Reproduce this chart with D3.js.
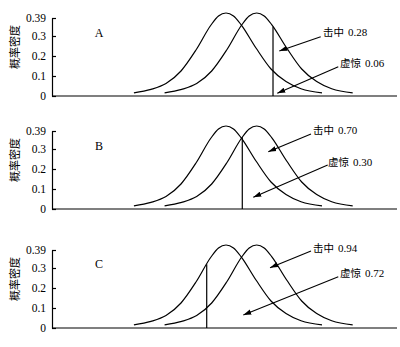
<!DOCTYPE html>
<html><head><meta charset="utf-8">
<script src="https://cdn.jsdelivr.net/npm/d3@7"></script>
<style>
html,body{margin:0;padding:0;background:#fff;}
svg{display:block;}
</style>
</head><body>
<svg id="chart" width="400" height="347"></svg>
<script>
// ---- data ----
const panelNames = ["A", "B", "C"];
const hitRates = ["0.28", "0.70", "0.94"];
const faRates = ["0.06", "0.30", "0.72"];
const criteria = [1.567, 0.543, -0.643];
const noiseMean = 0;
const signalMean = 1.023;
const curveOffsets = [-3.07, -2.5, -2, -1.5, -1, -0.5, -0.25, 0, 0.25, 0.5, 1, 1.5, 2, 2.5, 3.2];
const curveDensity = [0.016, 0.033, 0.062, 0.125, 0.23, 0.355, 0.40, 0.415, 0.40, 0.357, 0.24, 0.135, 0.072, 0.036, 0.016];
const yTicks = [0, 0.1, 0.2, 0.3, 0.39];
const yLabel = "概率密度";
const hitLabel = "击中";
const faLabel = "虚惊";

// ---- layout (data units) ----
const panelBases = [96, 209, 328];
const letterPos = [[-4.23, 0.297], [-4.23, 0.297], [-4.23, 0.30]];
const hitTextPos = [[3.23, 0.3025], [2.9, 0.375], [2.9, 0.3825]];
const hitArrow = [[[3.157, 0.2965], [1.777, 0.225]], [[2.833, 0.375], [1.41, 0.2865]], [[2.833, 0.385], [1.467, 0.3015]]];
const faTextPos = [[3.8, 0.1475], [3.4, 0.2175], [3.8, 0.255]];
const faArrow = [[[3.743, 0.1465], [1.71, 0.0135]], [[3.39, 0.22], [0.91, 0.0585]], [[3.743, 0.2565], [0.577, 0.065]]];

const svg = d3.select("#chart");
const x = d3.scaleLinear().domain([-5.8, 5.7]).range([52, 397]);
const serif = "'Liberation Serif','Times New Roman',serif";
const cjk = "'Noto Sans CJK SC','Noto Sans CJK JP',sans-serif";

svg.append("defs").append("marker")
  .attr("id", "arr").attr("markerUnits", "userSpaceOnUse")
  .attr("viewBox", "0 -3 8 6").attr("refX", 8).attr("refY", 0)
  .attr("markerWidth", 8).attr("markerHeight", 6).attr("orient", "auto")
  .append("path").attr("d", "M0,-2.6L8,0L0,2.6Z").attr("fill", "#000");

function densityAt(v, mean) {
  const o = v - mean;
  if (o <= curveOffsets[0] || o >= curveOffsets[curveOffsets.length - 1]) return 0;
  for (let i = 0; i < curveOffsets.length - 1; i++) {
    if (o >= curveOffsets[i] && o <= curveOffsets[i + 1]) {
      const t = (o - curveOffsets[i]) / (curveOffsets[i + 1] - curveOffsets[i]);
      return curveDensity[i] + t * (curveDensity[i + 1] - curveDensity[i]);
    }
  }
  return 0;
}

panelNames.forEach((name, p) => {
  const base = panelBases[p];
  const y = d3.scaleLinear().domain([0, 0.39]).range([base, base - 78]);
  const g = svg.append("g");

  // y axis
  const ax = g.append("g").attr("transform", `translate(${x(-5.8)},0)`)
    .call(d3.axisLeft(y).tickValues(yTicks).tickSizeInner(-4).tickSizeOuter(0).tickPadding(6)
      .tickFormat(d => d === 0 ? "0" : String(d)));
  ax.selectAll("path,line").attr("stroke", "#000").attr("stroke-width", 1.2);
  ax.selectAll("text").attr("font-family", serif).attr("font-size", 11.5).attr("fill", "#000");

  // x axis line
  g.append("line").attr("x1", x(-5.8)).attr("x2", x(5.7)).attr("y1", y(0)).attr("y2", y(0))
    .attr("stroke", "#000").attr("stroke-width", 1.2);

  // y label
  g.append("text").attr("transform", `translate(19,${y(0.245)}) rotate(-90)`)
    .attr("text-anchor", "middle").attr("font-family", cjk).attr("font-size", 11)
    .text(yLabel);

  // curves
  const line = d3.line().x(d => x(d[0])).y(d => y(d[1])).curve(d3.curveMonotoneX);
  [noiseMean, signalMean].forEach(m => {
    g.append("path").datum(curveOffsets.map((o, i) => [m + o, curveDensity[i]]))
      .attr("d", line).attr("fill", "none").attr("stroke", "#000").attr("stroke-width", 1.2);
  });

  // criterion line
  const c = criteria[p];
  const top = Math.max(densityAt(c, noiseMean), densityAt(c, signalMean));
  g.append("line").attr("x1", x(c)).attr("x2", x(c)).attr("y1", y(0)).attr("y2", y(top))
    .attr("stroke", "#000").attr("stroke-width", 1.2);

  // panel letter
  g.append("text").attr("x", x(letterPos[p][0])).attr("y", y(letterPos[p][1]))
    .attr("text-anchor", "middle").attr("font-family", serif).attr("font-size", 12).text(name);

  // annotations
  const ann = (pos, label, val, arrow) => {
    const t = g.append("text").attr("x", x(pos[0])).attr("y", y(pos[1]));
    t.append("tspan").attr("font-family", cjk).attr("font-size", 10.5).text(label);
    t.append("tspan").attr("font-family", serif).attr("font-size", 11).attr("dx", 4).text(val);
    g.append("line").attr("x1", x(arrow[0][0])).attr("y1", y(arrow[0][1]))
      .attr("x2", x(arrow[1][0])).attr("y2", y(arrow[1][1]))
      .attr("stroke", "#000").attr("stroke-width", 1.1).attr("marker-end", "url(#arr)");
  };
  ann(hitTextPos[p], hitLabel, hitRates[p], hitArrow[p]);
  ann(faTextPos[p], faLabel, faRates[p], faArrow[p]);
});
</script>
</body></html>
